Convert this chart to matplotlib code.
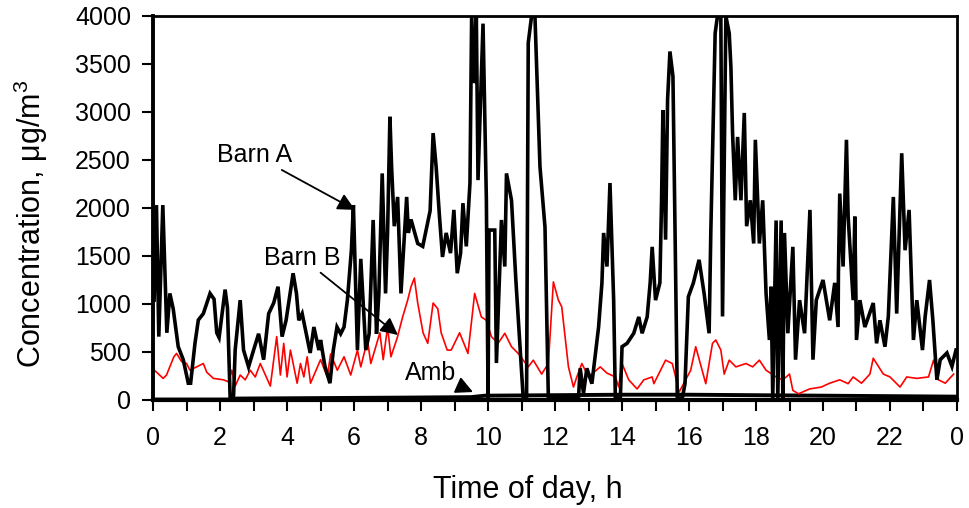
import numpy as np
import matplotlib
matplotlib.use("Agg")
import matplotlib.pyplot as plt
from matplotlib.ticker import MultipleLocator

plt.rcParams['font.family'] = ['Liberation Sans', 'DejaVu Sans']
plt.rcParams['mathtext.fontset'] = 'custom'
plt.rcParams['mathtext.rm'] = 'Liberation Sans'
plt.rcParams['mathtext.default'] = 'regular'

# Barn A (hour, concentration ug/m3)
barn_a_h = [0.03, 0.1, 0.17, 0.29, 0.41, 0.5, 0.6, 0.75, 0.9, 1.05, 1.12, 1.25, 1.35, 1.5,
            1.7, 1.82, 1.9, 1.97, 2.15, 2.22, 2.3, 2.4, 2.45, 2.6, 2.7, 2.85, 3.0, 3.15,
            3.3, 3.45, 3.6, 3.73, 3.85, 3.97, 4.18, 4.28, 4.35, 4.45, 4.69, 4.8, 4.95,
            5.0, 5.13, 5.28, 5.38, 5.49, 5.6, 5.7, 5.8, 5.92, 5.98, 6.03, 6.1, 6.2, 6.35,
            6.45, 6.57, 6.67, 6.74, 6.84, 6.94, 7.0, 7.07, 7.12, 7.2, 7.3, 7.4, 7.57,
            7.62, 7.7, 7.9, 8.05, 8.27, 8.36, 8.45, 8.55, 8.64, 8.75, 8.88, 8.98, 9.08,
            9.18, 9.25, 9.35, 9.46, 9.51, 9.6, 9.65, 9.7, 9.85, 9.95, 10.0, 10.03, 10.2,
            10.25, 10.4, 10.5, 10.55, 10.7, 10.83, 11.05, 11.15, 11.2, 11.3, 11.4, 11.45,
            11.55, 11.7, 11.8, 12.7, 12.75, 12.85, 12.95, 13.1, 13.3, 13.4, 13.45, 13.55,
            13.64, 13.75, 13.8, 13.95, 14.0, 14.15, 14.35, 14.5, 14.6, 14.75, 14.84, 14.9,
            15.0, 15.13, 15.18, 15.22, 15.3, 15.36, 15.43, 15.52, 15.65, 15.8, 15.88,
            15.98, 16.13, 16.3, 16.45, 16.6, 16.65, 16.78, 16.85, 16.95, 17.0, 17.1, 17.2,
            17.25, 17.3, 17.38, 17.45, 17.55, 17.65, 17.72, 17.83, 17.93, 17.98, 18.1,
            18.2, 18.3, 18.4, 18.45, 18.5, 18.6, 18.65, 18.75, 18.8, 18.85, 18.95, 19.1,
            19.18, 19.3, 19.45, 19.61, 19.7, 19.8, 20.0, 20.2, 20.35, 20.45, 20.46, 20.5,
            20.6, 20.7, 20.75, 20.9, 20.95, 21.0, 21.1, 21.25, 21.5, 21.6, 21.7, 21.85,
            21.95, 22.1, 22.2, 22.35, 22.45, 22.57, 22.7, 22.8, 22.97, 23.05, 23.18,
            23.28, 23.4, 23.5, 23.7, 23.85, 23.97]
barn_a_v = [1040, 2030, 660, 2030, 700, 1110, 950, 555, 420, 175, 175, 590, 833, 900,
            1110, 1050, 700, 650, 1150, 960, 20, 20, 520, 1040, 520, 345, 520, 690,
            420, 900, 1010, 1180, 660, 830, 1320, 1110, 830, 900, 490, 760, 520,
            625, 350, 175, 520, 760, 690, 760, 1040, 1560, 2030, 1400, 520, 1470, 520,
            690, 1875, 690, 1110, 2360, 1110, 1740, 2950, 2430, 1810, 2115, 1110, 2115,
            1740, 1880, 1630, 1600, 1970, 2780, 2430, 1910, 1490, 1740, 1530, 1980, 1320,
            1530, 2050, 1600, 2260, 4000, 3300, 4000, 2290, 3920, 2080, 20, 1770, 1770,
            385, 1875, 1390, 2360, 2080, 1250, 20, 20, 3720, 4000, 4000, 3480,
            2430, 1800, 20, 20, 330, 70, 330, 170, 760, 1220, 1740, 1390,
            2260, 1040, 20, 20, 555, 590, 695, 865, 695, 865, 1220, 1595,
            1040, 1220, 2080, 3020, 1670, 3130, 3630, 3370, 20, 20, 170,
            1075, 1220, 1460, 1110, 695, 1740, 3820, 4000, 4000, 870, 4000, 3820,
            3470, 2780, 2080, 2740, 2080, 2990, 1810, 2080, 1630, 2710, 1630,
            2080, 1110, 625, 1180, 20, 1870, 20, 1870, 20, 1740, 695, 1595,
            420, 1040, 695, 1980, 420, 1040, 1250, 830, 1220, 760, 1320, 2150,
            1390, 2710, 1910, 1040, 1910, 625, 1040, 760, 1010, 590, 830, 555,
            870, 2115, 900, 2570, 1560, 1980, 625, 1040, 520, 870, 1250,
            830, 210, 420, 490, 350, 520]

# Barn B
barn_b_h = [0.04, 0.3, 0.4, 0.48, 0.62, 0.7, 0.85, 1.0, 1.1, 1.3, 1.5, 1.6, 1.8, 2.1,
            2.25, 2.35, 2.45, 2.6, 2.75, 2.9, 3.05, 3.2, 3.5, 3.69, 3.8, 3.9, 4.0, 4.1,
            4.3, 4.4, 4.5, 4.6, 4.7, 5.0, 5.2, 5.3, 5.5, 5.7, 5.9, 6.1, 6.2, 6.4, 6.5,
            6.77, 6.87, 7.0, 7.1, 7.29, 7.45, 7.6, 7.7, 7.8, 7.9, 8.06, 8.2, 8.36, 8.5,
            8.6, 8.78, 8.9, 9.15, 9.4, 9.6, 9.8, 9.95, 10.1, 10.3, 10.5, 10.7, 10.9,
            11.2, 11.35, 11.6, 11.8, 11.95, 12.1, 12.2, 12.4, 12.55, 12.65, 12.8, 13.0,
            13.35, 13.55, 13.8, 13.9, 14.0, 14.2, 14.45, 14.65, 14.9, 14.95, 15.3, 15.5,
            15.65, 15.7, 15.9, 16.05, 16.2, 16.5, 16.7, 16.8, 16.95, 17.05, 17.2, 17.4,
            17.7, 17.9, 18.1, 18.3, 18.6, 18.8, 19.0, 19.1, 19.27, 19.6, 19.95, 20.2,
            20.5, 20.75, 20.9, 21.15, 21.4, 21.5, 21.8, 22.0, 22.3, 22.5, 22.8, 23.15,
            23.3, 23.45, 23.65, 23.9]
barn_b_v = [310, 225, 260, 330, 450, 485, 400, 380, 310, 345, 380, 290, 225, 210,
            190, 310, 145, 260, 210, 310, 240, 380, 145, 660, 260, 590, 240, 520,
            175, 380, 240, 450, 175, 420, 240, 480, 310, 450, 260, 520, 345, 625, 380,
            700, 420, 760, 450, 650, 865, 1040, 1180, 1270, 1010, 700, 590, 1010, 950,
            700, 520, 520, 700, 485, 1110, 865, 830, 660, 590, 695, 555, 485,
            345, 415, 270, 380, 1230, 1040, 970, 345, 135, 240, 380, 240,
            345, 280, 240, 135, 380, 210, 115, 210, 240, 170, 415, 380,
            170, 80, 210, 310, 555, 170, 590, 625, 520, 270, 415, 345,
            380, 345, 415, 310, 240, 210, 270, 100, 65, 115, 135, 175,
            210, 170, 240, 175, 270, 435, 270, 240, 135, 240, 225, 240,
            415, 210, 175, 270]

# Ambient
amb_h = [0, 2.3, 2.5, 5, 7.5, 9.5, 9.9, 12, 14, 16, 18, 20, 22, 24]
amb_v = [5, 5, 15, 20, 25, 30, 45, 50, 55, 55, 50, 45, 40, 35]

x_ticks = np.arange(0, 25, 2)
x_labels = [str(h % 24) for h in x_ticks]

fig = plt.figure(figsize=(9.69, 5.08), dpi=100)
ax = fig.add_axes([0.158, 0.2126, 0.8296, 0.756])

ax.plot(amb_h, amb_v, color='black', lw=2.8)
ax.plot(barn_b_h, barn_b_v, color='red', lw=1.2)
ax.plot(barn_a_h, barn_a_v, color='black', lw=2.6, solid_joinstyle='miter')

ax.set_xlim(0, 24)
ax.set_ylim(0, 4000)
ax.set_xticks(x_ticks)
ax.set_xticklabels(x_labels)
ax.xaxis.set_minor_locator(MultipleLocator(1))
ax.yaxis.set_major_locator(MultipleLocator(500))
ax.tick_params(axis='both', which='both', direction='out', labelsize=18, width=1.5)
ax.tick_params(axis='x', which='both', length=8, pad=11)
ax.tick_params(axis='y', length=8, pad=8)
for s in ax.spines.values():
    s.set_linewidth(2)
ax.spines['left'].set_linewidth(2.8)
ax.spines['bottom'].set_linewidth(3)

ax.set_xlabel('Time of day, h', fontsize=22)
ax.set_ylabel('Concentration, μg/m$^3$', fontsize=22)
ax.xaxis.set_label_coords(0.466, -0.195)
ax.yaxis.set_label_coords(-0.128, 0.46)

arrow = dict(arrowstyle='-|>', color='black', lw=1.3, mutation_scale=26, shrinkA=0, shrinkB=0)
ax.annotate('Barn A', xy=(6.03, 1980), xytext=(1.91, 2550), fontsize=18,
            va='center', ha='left', arrowprops=arrow)
ax.annotate('Barn B', xy=(7.31, 677), xytext=(3.31, 1480), fontsize=18,
            va='center', ha='left', arrowprops=arrow)
ax.annotate('Amb', xy=(9.55, 83), xytext=(7.52, 280), fontsize=18,
            va='center', ha='left', arrowprops=arrow)

fig.savefig('out.png', dpi=100)
